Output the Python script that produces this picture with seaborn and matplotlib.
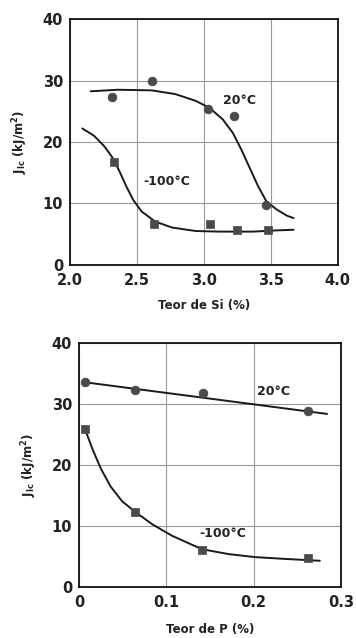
import matplotlib
matplotlib.use("Agg")
import matplotlib.pyplot as plt
import seaborn as sns

# ---- Top chart: Si content ----
si_20_x = [2.313, 2.614, 3.033, 3.222, 3.467]
si_20_y = [27.4, 30.0, 25.4, 24.3, 9.7]
si_m100_x = [2.326, 2.629, 3.045, 3.245, 3.477]
si_m100_y = [16.7, 6.6, 6.6, 5.6, 5.6]
si_20_curve_x = [2.154, 2.356, 2.609, 2.785, 2.937, 3.038, 3.139, 3.215, 3.278, 3.341, 3.404, 3.467, 3.543, 3.619, 3.669]
si_20_curve_y = [28.25, 28.5, 28.4, 27.8, 26.7, 25.6, 23.7, 21.5, 18.8, 15.8, 12.8, 10.3, 9.0, 8.0, 7.6]
si_m100_curve_x = [2.091, 2.179, 2.255, 2.318, 2.369, 2.419, 2.470, 2.533, 2.634, 2.760, 2.937, 3.114, 3.366, 3.543, 3.669]
si_m100_curve_y = [22.2, 21.0, 19.3, 17.4, 15.2, 12.8, 10.6, 8.7, 7.05, 6.07, 5.5, 5.4, 5.4, 5.6, 5.7]
si_ticks = [2.0, 2.5, 3.0, 3.5, 4.0]

# ---- Bottom chart: P content ----
p_20_x = [0.0065, 0.064, 0.142, 0.262]
p_20_y = [33.7, 32.3, 31.8, 28.9]
p_m100_x = [0.0068, 0.0646, 0.1407, 0.2616]
p_m100_y = [25.9, 12.3, 6.1, 4.7]
p_20_curve_x = [0.0065, 0.284]
p_20_curve_y = [33.6, 28.4]
p_m100_curve_x = [0.0068, 0.0152, 0.0247, 0.0361, 0.0494, 0.0646, 0.0837, 0.1065, 0.1407, 0.171, 0.2015, 0.236, 0.2757]
p_m100_curve_y = [25.9, 22.7, 19.5, 16.5, 14.05, 12.3, 10.3, 8.4, 6.2, 5.4, 4.9, 4.6, 4.3]
p_ticks = [0, 0.1, 0.2, 0.3]
p_tick_labels = ["0", "0.1", "0.2", "0.3"]

y_ticks = [0, 10, 20, 30, 40]
ylabel = r"J$_{\mathregular{Ic}}$ (kJ/m$^{\mathregular{2}}$)"

sns.set_style("white")
plt.rcParams['font.family'] = ['DejaVu Sans']

fig = plt.figure(figsize=(3.56, 6.38), dpi=100)
ax1 = fig.add_axes([0.197, 0.585, 0.752, 0.385])
ax2 = fig.add_axes([0.222, 0.080, 0.736, 0.382])

mcol = "#4a4a4a"
lcol = "#1a1a1a"

def style(ax, xt, xtl, xlim, xlabel, xpad):
    ax.set_xlim(*xlim)
    ax.set_ylim(0, 40)
    ax.set_xticks(xt)
    ax.set_xticklabels(xtl, fontsize=10.5, fontweight="bold", color="#222222")
    ax.set_yticks(y_ticks)
    ax.set_yticklabels([str(v) for v in y_ticks], fontsize=10.5, fontweight="bold", color="#222222")
    ax.grid(True, color="#9a9a9a", linewidth=0.8)
    ax.set_axisbelow(True)
    for s in ax.spines.values():
        s.set_color("#111111")
        s.set_linewidth(1.3)
        s.set_visible(True)
    ax.tick_params(axis="x", length=0, pad=6)
    ax.tick_params(axis="y", length=0, pad=5)
    ax.set_xlabel(xlabel, fontsize=8.5, fontweight="bold", color="#222222", labelpad=xpad)
    ax.set_ylabel(ylabel, fontsize=8.5, fontweight="bold", color="#222222", labelpad=9)

# Top
sns.lineplot(x=si_20_curve_x, y=si_20_curve_y, ax=ax1, color=lcol, linewidth=1.4, sort=False)
sns.lineplot(x=si_m100_curve_x, y=si_m100_curve_y, ax=ax1, color=lcol, linewidth=1.4, sort=False)
sns.scatterplot(x=si_20_x, y=si_20_y, ax=ax1, marker="o", s=40, color=mcol, edgecolor=mcol, zorder=3)
sns.scatterplot(x=si_m100_x, y=si_m100_y, ax=ax1, marker="s", s=40, color=mcol, edgecolor=mcol, zorder=3)
style(ax1, si_ticks, [f"{v:.1f}" for v in si_ticks], (2.0, 4.0), "Teor de Si (%)", 8)
ax1.text(3.14, 26.8, "20°C", fontsize=9, fontweight="bold", color="#222222", ha="left", va="center")
ax1.text(2.55, 13.5, "-100°C", fontsize=9, fontweight="bold", color="#222222", ha="left", va="center")

# Bottom
sns.lineplot(x=p_20_curve_x, y=p_20_curve_y, ax=ax2, color=lcol, linewidth=1.4, sort=False)
sns.lineplot(x=p_m100_curve_x, y=p_m100_curve_y, ax=ax2, color=lcol, linewidth=1.4, sort=False)
sns.scatterplot(x=p_20_x, y=p_20_y, ax=ax2, marker="o", s=40, color=mcol, edgecolor=mcol, zorder=3)
sns.scatterplot(x=p_m100_x, y=p_m100_y, ax=ax2, marker="s", s=40, color=mcol, edgecolor=mcol, zorder=3)
style(ax2, p_ticks, p_tick_labels, (0, 0.3), "Teor de P (%)", 9)
ax2.text(0.204, 32.0, "20°C", fontsize=9, fontweight="bold", color="#222222", ha="left", va="center")
ax2.text(0.138, 8.8, "-100°C", fontsize=9, fontweight="bold", color="#222222", ha="left", va="center")

fig.savefig("out.png", dpi=100)
